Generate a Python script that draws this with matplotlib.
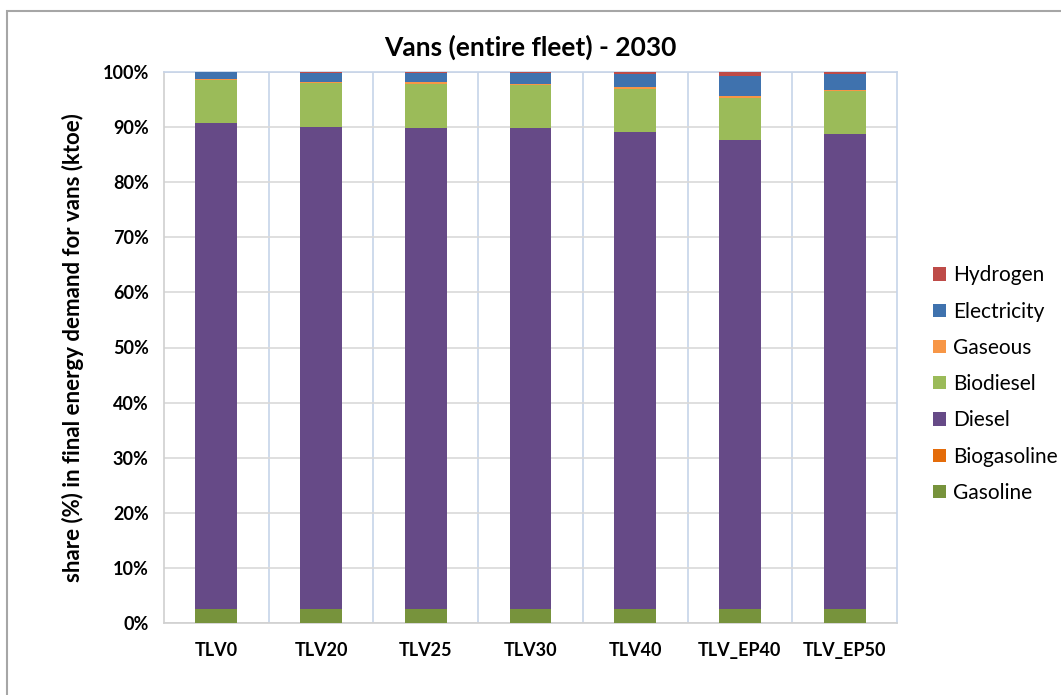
import matplotlib
matplotlib.use("Agg")
from matplotlib import pyplot as plt
from matplotlib.patches import Rectangle
import numpy as np

scenarios = ["TLV0", "TLV20", "TLV25", "TLV30", "TLV40", "TLV_EP40", "TLV_EP50"]

# shares (%)
gasoline = [2.5, 2.5, 2.5, 2.5, 2.5, 2.5, 2.5]
biogasoline = [0.1, 0.1, 0.1, 0.1, 0.1, 0.1, 0.1]
diesel = [88.1, 87.4, 87.3, 87.2, 86.6, 85.1, 86.1]
biodiesel = [7.9, 8.0, 8.0, 7.9, 7.8, 7.6, 7.8]
gaseous = [0.1, 0.2, 0.2, 0.2, 0.2, 0.3, 0.2]
electricity = [1.3, 1.6, 1.8, 1.9, 2.4, 3.6, 2.9]
hydrogen = [0.0, 0.2, 0.1, 0.2, 0.4, 0.8, 0.4]

series = [
    ("Gasoline", gasoline, "#77933c"),
    ("Biogasoline", biogasoline, "#e46c0a"),
    ("Diesel", diesel, "#664a87"),
    ("Biodiesel", biodiesel, "#9bbb59"),
    ("Gaseous", gaseous, "#f79646"),
    ("Electricity", electricity, "#3f72ae"),
    ("Hydrogen", hydrogen, "#be4b48"),
]

font = ["Lato", "DejaVu Sans"]
plt.rcParams["font.family"] = font

fig = plt.figure(figsize=(10.61, 6.95), dpi=100)
ax = fig.add_axes([164 / 1061, 72 / 695, 733 / 1061, 551 / 695])

totals = np.sum([np.array(s[1]) for s in series], axis=0)
x = np.arange(len(scenarios))
bottom = np.zeros(len(scenarios))
handles = []
for name, vals, col in series:
    v = np.array(vals) / totals * 100
    b = ax.bar(x, v, 0.4, bottom=bottom, color=col, label=name, zorder=3)
    handles.append(b)
    bottom += v

ax.set_xlim(-0.5, len(scenarios) - 0.5)
ax.set_ylim(0, 100)
ax.set_yticks(np.arange(0, 101, 10))
ax.set_yticklabels([f"{t}%" for t in range(0, 101, 10)])
ax.set_xticks(x)
ax.set_xticklabels(scenarios)
ax.tick_params(axis="both", length=0, labelsize=13)
ax.tick_params(axis="y", pad=11)
ax.tick_params(axis="x", pad=14)
for lab in ax.get_xticklabels() + ax.get_yticklabels():
    lab.set_fontweight("bold")

ax.yaxis.grid(True, color="#d9d9d9", lw=1.2, zorder=0)
for xv in x[:-1] + 0.5:
    ax.axvline(xv, color="#c6d4e9", lw=1.2, zorder=0)
for sp in ax.spines.values():
    sp.set_color("#d0d0d0")
    sp.set_linewidth(1.2)
ax.spines["right"].set_color("#c6d4e9")
ax.spines["top"].set_color("#c6d4e9")

ax.set_ylabel("share (%) in final energy demand for vans (ktoe)", fontsize=16,
              fontweight="bold", labelpad=13)
ax.set_title("Vans (entire fleet) - 2030", fontsize=19, fontweight="bold", pad=12)

leg = fig.legend(handles[::-1], [s[0] for s in series][::-1],
                 loc="upper left", bbox_to_anchor=(925 / 1061, 1 - 257 / 695),
                 frameon=False, fontsize=15, handlelength=0.6, handleheight=0.6,
                 handletextpad=0.35, labelspacing=0.78, borderaxespad=0)

fig.patches.append(Rectangle((7 / 1061, -0.1), 1.2, 1 - 11 / 695 + 0.1,
                             transform=fig.transFigure, fill=False,
                             edgecolor="#a6a6a6", lw=1.5))

fig.savefig("out.png", dpi=100)
